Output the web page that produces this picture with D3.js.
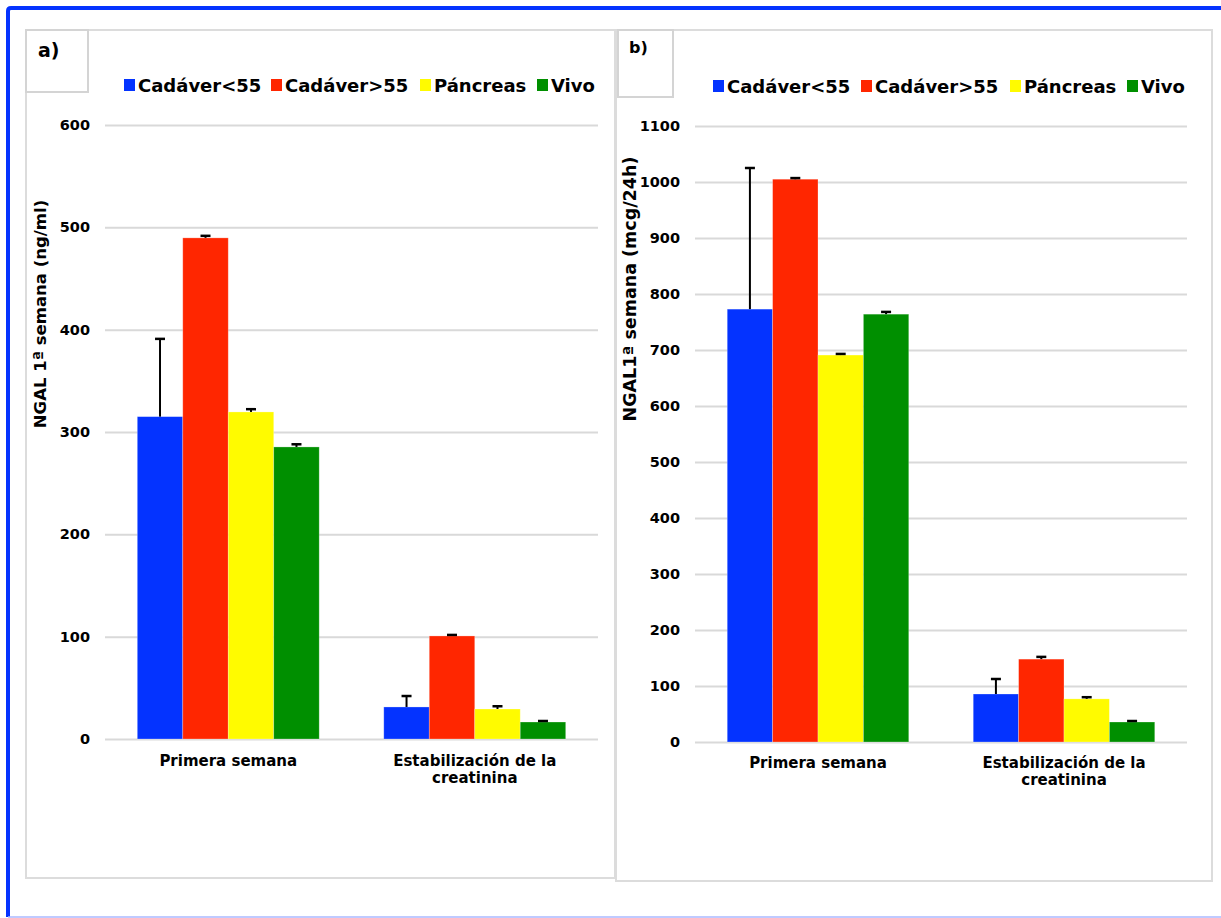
<!DOCTYPE html>
<html><head><meta charset="utf-8">
<script src="https://cdn.jsdelivr.net/npm/d3@7"></script>
<style>
body{margin:0;background:#fff;}
svg text{font-family:"DejaVu Sans",Verdana,sans-serif;font-weight:bold;fill:#000;}
</style></head>
<body><svg id="c" width="1221" height="918"></svg>
<script>
const categories = ["Primera semana", "Estabilización de la creatinina"];
const categoryLines = [["Primera semana"], ["Estabilización de la", "creatinina"]];
const seriesNames = ["Cadáver<55", "Cadáver>55", "Páncreas", "Vivo"];
const seriesColors = ["#0433ff", "#ff2600", "#fffb00", "#008f00"];
// Panel a: NGAL (ng/ml), values per series [Primera, Estabilización]
const aCad55 = [315, 31.3];
const aCad55Err = [391, 42];
const aCadMas55 = [489.7, 100.7];
const aCadMas55Err = [491.7, 101.7];
const aPancreas = [319.6, 29.3];
const aPancreasErr = [322.3, 32];
const aVivo = [285.4, 16.6];
const aVivoErr = [288, 17.6];
const aTicks = [0, 100, 200, 300, 400, 500, 600];
// Panel b: NGAL (mcg/24h)
const bCad55 = [773, 85.7];
const bCad55Err = [1025, 112.5];
const bCadMas55 = [1005, 148];
const bCadMas55Err = [1007, 152];
const bPancreas = [691, 77];
const bPancreasErr = [693, 80];
const bVivo = [764, 35.7];
const bVivoErr = [768, 37.5];
const bTicks = [0, 100, 200, 300, 400, 500, 600, 700, 800, 900, 1000, 1100];

const svg = d3.select("#c");

svg.append("path").attr("d","M8,917 L8,11 Q8,8 11,8 L1221,8")
  .attr("fill","none").attr("stroke","#0433ff").attr("stroke-width",4);
svg.append("line").attr("x1",8).attr("x2",1221).attr("y1",917).attr("y2",917)
  .attr("stroke","#aab8ff").attr("stroke-width",1.5);

function panel(o){
  const g = svg.append("g");
  g.append("rect").attr("x",o.box[0]).attr("y",o.box[1]).attr("width",o.box[2]).attr("height",o.box[3])
    .attr("fill","#fff").attr("stroke","#dcdcdc").attr("stroke-width",2);
  g.append("rect").attr("x",o.lbox[0]).attr("y",o.lbox[1]).attr("width",o.lbox[2]).attr("height",o.lbox[3])
    .attr("fill","#fff").attr("stroke","#d4d4d4").attr("stroke-width",2);
  g.append("text").attr("x",o.lab[0]).attr("y",o.lab[1]).attr("font-size",o.lab[2]).text(o.label);

  const y = d3.scaleLinear().domain([0, o.ticks[o.ticks.length-1]]).range([o.y0, o.y1]);
  const x0 = d3.scaleBand().domain(categories).range([o.x0, o.x1]).paddingInner(0.262).paddingOuter(0.131);
  const x1 = d3.scaleBand().domain(seriesNames).range([0, x0.bandwidth()]);

  const ax = g.append("g").attr("transform",`translate(${o.x0},0)`)
    .call(d3.axisLeft(y).tickValues(o.ticks).tickFormat(d3.format("d")).tickSize(-(o.x1-o.x0)).tickPadding(15));
  ax.select(".domain").remove();
  ax.selectAll(".tick line").attr("stroke","#d9d9d9").attr("stroke-width",2);
  ax.selectAll(".tick text").attr("font-size",14.5).attr("font-family","DejaVu Sans").attr("font-weight","bold").attr("fill","#000");

  const data = [];
  o.vals.forEach((vs,si)=>vs.forEach((v,ci)=>data.push({s:seriesNames[si],c:categories[ci],v:v,e:o.errs[si][ci],color:seriesColors[si]})));

  g.selectAll("rect.bar").data(data).enter().append("rect").attr("class","bar")
    .attr("x",d=>x0(d.c)+x1(d.s)).attr("width",x1.bandwidth())
    .attr("y",d=>y(d.v)).attr("height",d=>y(0)-y(d.v))
    .attr("fill",d=>d.color).attr("stroke","rgba(255,255,255,0.35)").attr("stroke-width",0.75);

  const eb = g.selectAll("g.err").data(data).enter().append("g")
    .attr("transform",d=>`translate(${x0(d.c)+x1(d.s)+x1.bandwidth()/2},0)`);
  eb.append("line").attr("y1",d=>y(d.v)).attr("y2",d=>y(d.e)).attr("stroke","#000").attr("stroke-width",2);
  eb.append("line").attr("x1",-5).attr("x2",5).attr("y1",d=>y(d.e)).attr("y2",d=>y(d.e)).attr("stroke","#000").attr("stroke-width",2.5);

  categoryLines.forEach((lines,ci)=>{
    lines.forEach((t,li)=>{
      g.append("text").attr("x",x0(categories[ci])+x0.bandwidth()/2).attr("y",o.catY+li*17)
        .attr("text-anchor","middle").attr("font-size",15).text(t);
    });
  });

  g.append("text").attr("transform",`translate(${o.yt[0]},${o.yt[1]}) rotate(-90)`)
    .attr("text-anchor","middle").attr("font-size",o.yt[2]).text(o.ytitle);

  o.leg.forEach((lx,i)=>{
    g.append("rect").attr("x",lx).attr("y",o.legY-13).attr("width",11).attr("height",12).attr("fill",seriesColors[i]);
    g.append("text").attr("x",lx+14).attr("y",o.legY).attr("font-size",18).text(seriesNames[i]);
  });
}

panel({box:[26,30,589,848], lbox:[26,30,62,62], label:"a)", lab:[38,57,19],
  ticks:aTicks, y0:739, y1:125, x0:105, x1:598,
  vals:[aCad55,aCadMas55,aPancreas,aVivo], errs:[aCad55Err,aCadMas55Err,aPancreasErr,aVivoErr],
  catY:766, yt:[46,314,16.5], ytitle:"NGAL 1ª semana (ng/ml)", leg:[124,271,420,537], legY:92});

panel({box:[616,30,596,851], lbox:[618,30,55,67], label:"b)", lab:[629,53,16],
  ticks:bTicks, y0:742, y1:126, x0:695, x1:1187,
  vals:[bCad55,bCadMas55,bPancreas,bVivo], errs:[bCad55Err,bCadMas55Err,bPancreasErr,bVivoErr],
  catY:768, yt:[636,289,17.5], ytitle:"NGAL1ª semana (mcg/24h)", leg:[713,861,1010,1127], legY:93});
</script></body></html>
